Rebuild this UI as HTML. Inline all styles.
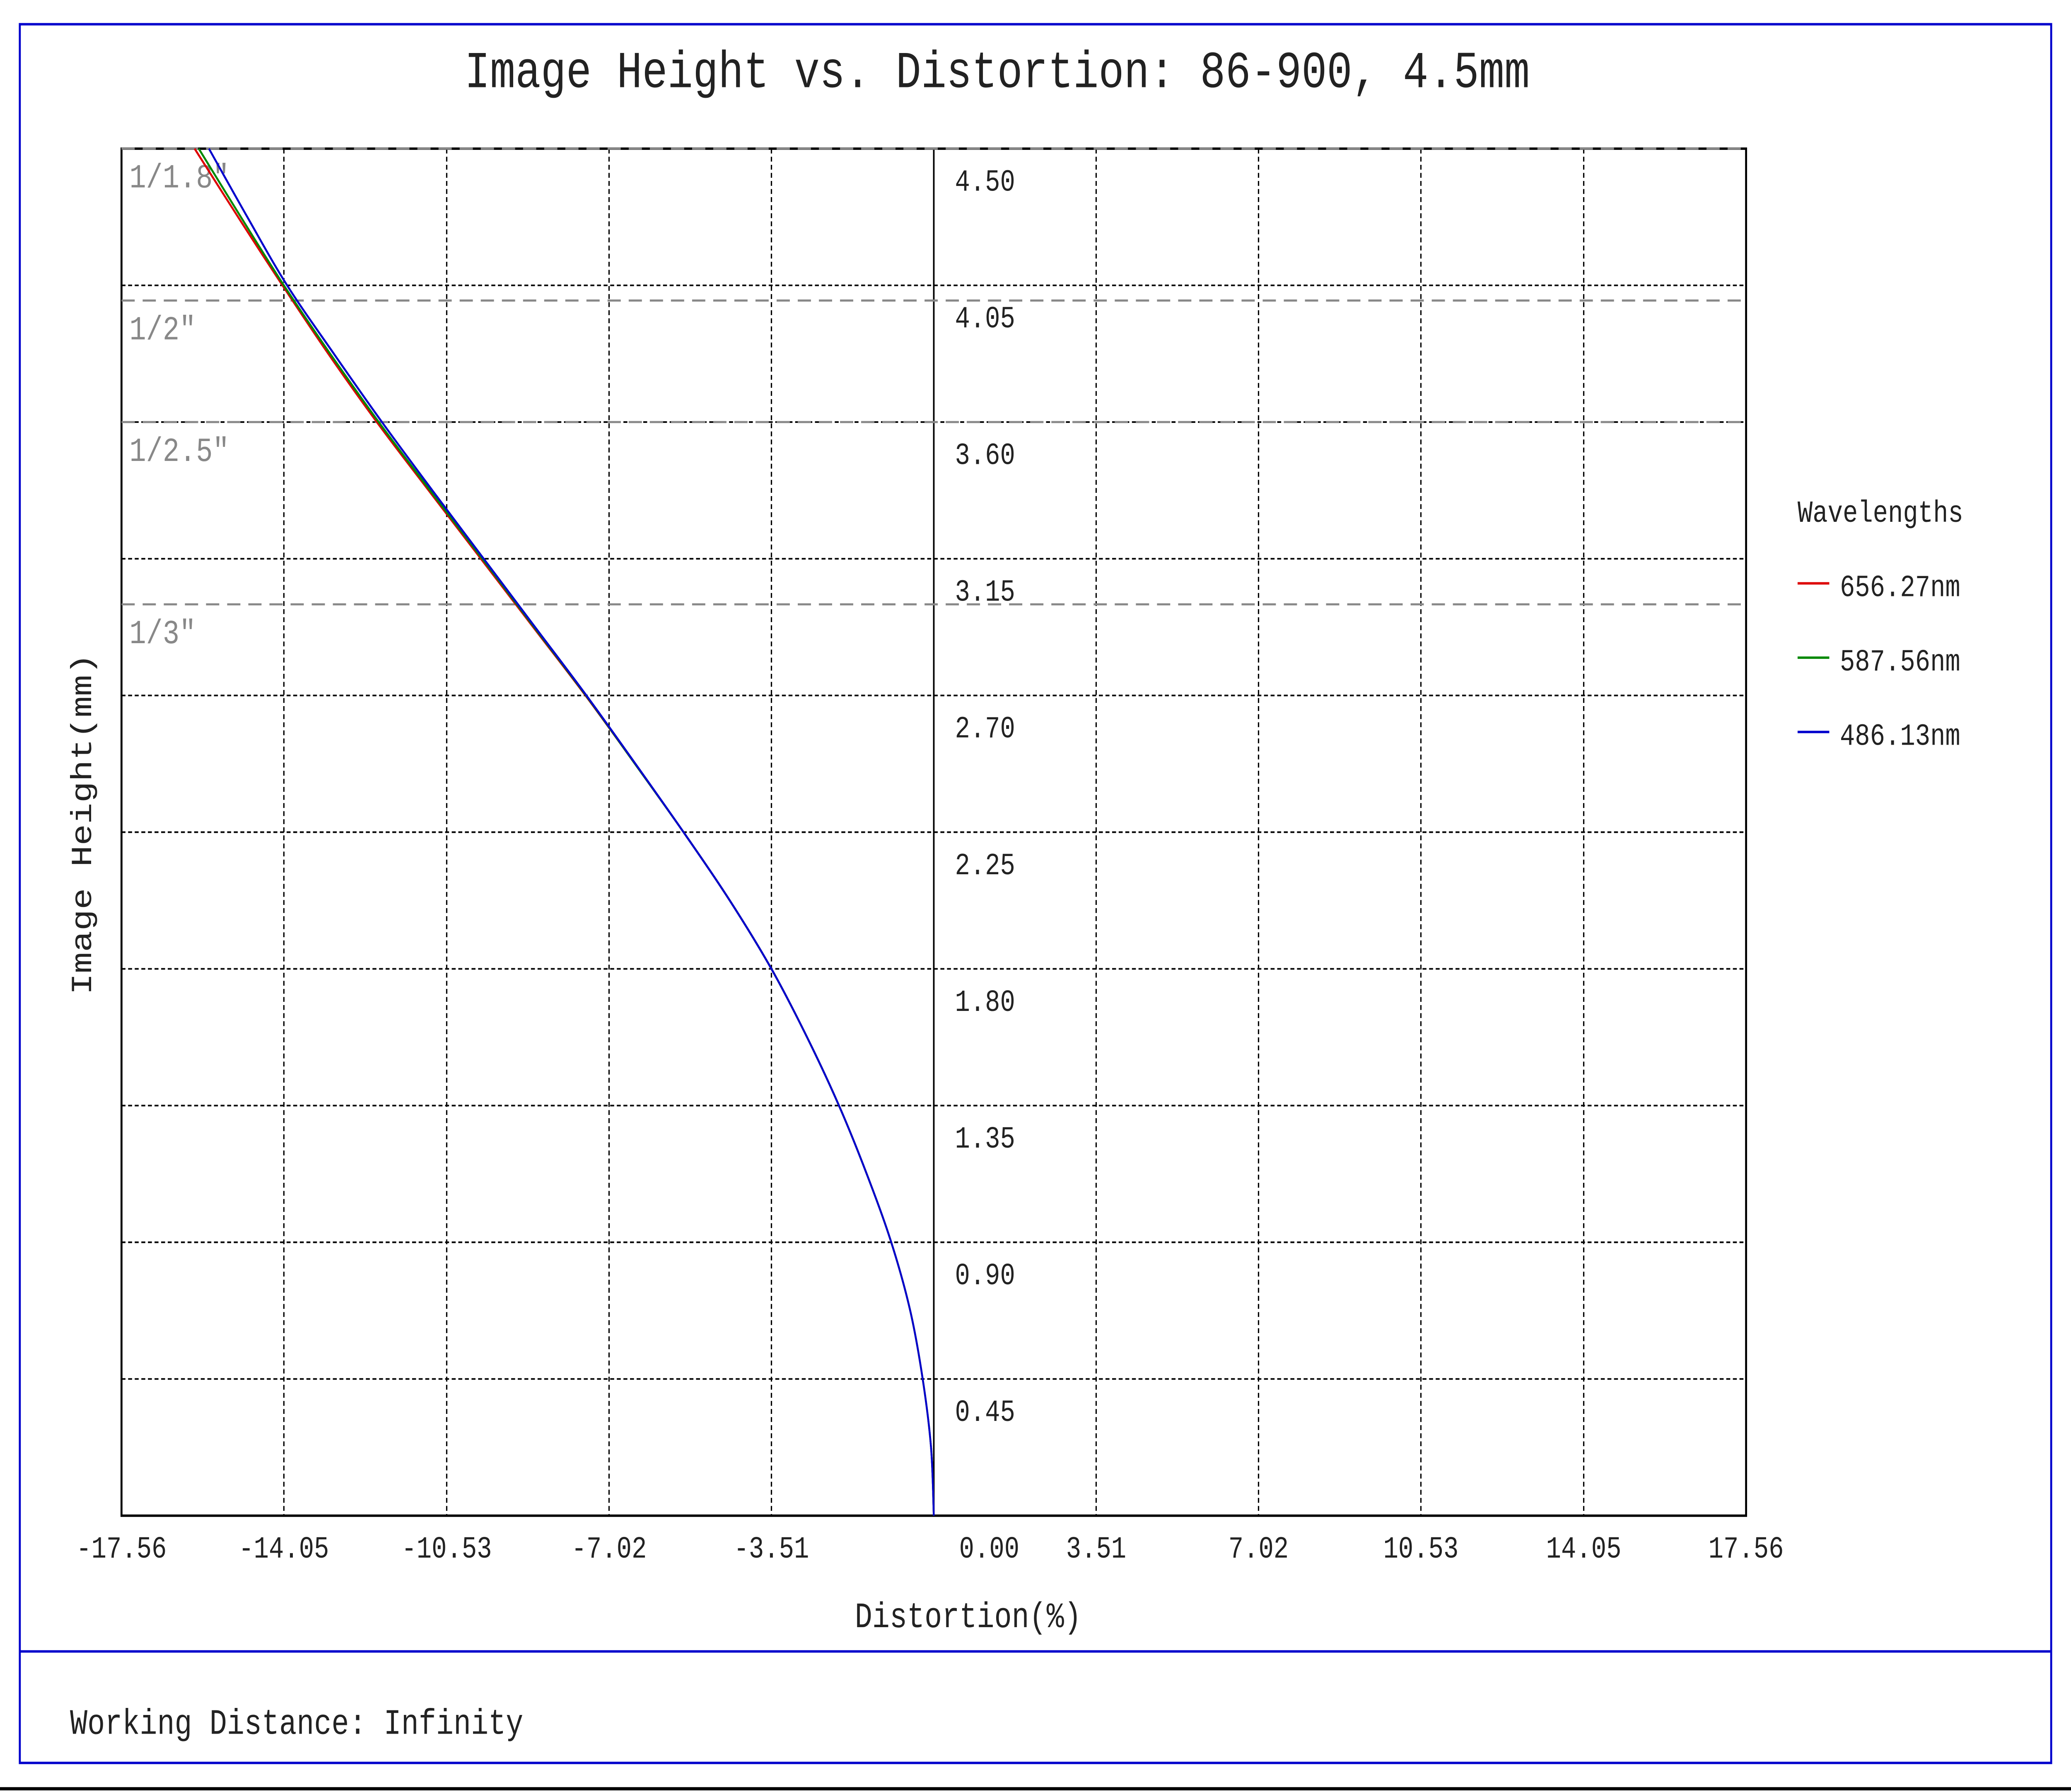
<!DOCTYPE html>
<html><head><meta charset="utf-8"><style>
html,body{margin:0;padding:0;background:#fff;width:100%;height:100%;overflow:hidden;}
svg{display:block;position:fixed;left:0;top:0;width:100vw;height:100vh;}
text{font-family:"Liberation Mono",monospace;}
</style></head><body>
<svg id="chart" viewBox="0 0 1568 1109" preserveAspectRatio="none" xmlns="http://www.w3.org/2000/svg">
<rect x="0" y="0" width="1568" height="1109" fill="#fff"/>
<rect x="15" y="15" width="1538" height="1076" fill="none" stroke="#0000cc" stroke-width="1.5"/>
<line x1="15" y1="1022" x2="1553" y2="1022" stroke="#0000cc" stroke-width="1.5"/>
<line x1="0" y1="1107" x2="1568" y2="1107" stroke="#000" stroke-width="2"/>
<text x="755" y="54" font-size="32" text-anchor="middle" fill="#222">Image Height vs. Distortion: 86-900, 4.5mm</text>
<g id="grid"></g>
<g id="sensors"></g>
<g id="ticks"></g>
<g id="series"></g>
<text x="733" y="1007" font-size="22" text-anchor="middle" fill="#222">Distortion(%)</text>
<text x="0" y="0" font-size="22" text-anchor="middle" fill="#222" transform="translate(69,510) rotate(-90)">Image Height(mm)</text>
<g>
<text x="1361" y="323" font-size="19" fill="#222">Wavelengths</text>
<line x1="1361" y1="361" x2="1385" y2="361" stroke="#d00" stroke-width="1.5"/>
<text x="1393" y="369" font-size="19" fill="#222">656.27nm</text>
<line x1="1361" y1="407" x2="1385" y2="407" stroke="#080" stroke-width="1.5"/>
<text x="1393" y="415" font-size="19" fill="#222">587.56nm</text>
<line x1="1361" y1="453" x2="1385" y2="453" stroke="#00c" stroke-width="1.5"/>
<text x="1393" y="461" font-size="19" fill="#222">486.13nm</text>
</g>
<text x="53" y="1073" font-size="22" fill="#222">Working Distance: Infinity</text>
</svg>
<script>
const xTicks = [-17.56,-14.05,-10.53,-7.02,-3.51,0.00,3.51,7.02,10.53,14.05,17.56];
const yTicks = [0.45,0.90,1.35,1.80,2.25,2.70,3.15,3.60,4.05,4.50];
const sensorLabels = ['1/1.8"','1/2"','1/2.5"','1/3"'];
const sensorHeights = [4.5,4.0,3.6,3.0];
const heights = [0,0.225,0.45,0.675,0.9,1.125,1.35,1.575,1.8,2.025,2.25,2.475,2.7,2.925,3.15,3.375,3.6,3.825,4.05,4.275,4.5];
const distRed   = [0,-0.06,-0.24,-0.51,-0.92,-1.45,-2.05,-2.74,-3.51,-4.41,-5.41,-6.46,-7.53,-8.66,-9.79,-10.92,-12.04,-13.09,-14.08,-15.04,-15.98];
const distGreen = [0,-0.06,-0.24,-0.51,-0.92,-1.45,-2.05,-2.74,-3.51,-4.41,-5.41,-6.46,-7.52,-8.64,-9.76,-10.89,-12.00,-13.05,-14.05,-14.98,-15.89];
const distBlue  = [0,-0.06,-0.24,-0.51,-0.92,-1.45,-2.05,-2.74,-3.51,-4.41,-5.41,-6.45,-7.51,-8.62,-9.73,-10.84,-11.93,-12.97,-13.98,-14.84,-15.67];

const NS='http://www.w3.org/2000/svg';
const L=92,R=1322,T=92,B=938,XMIN=-17.56,XMAX=17.56,YMAX=4.5;
const sx=v=>L+(v-XMIN)/(XMAX-XMIN)*(R-L);
const sy=v=>B-v/YMAX*(B-T);
function mk(tag,attrs,parent){const e=document.createElementNS(NS,tag);for(const k in attrs)e.setAttribute(k,attrs[k]);parent.appendChild(e);return e;}
const grid=document.getElementById('grid'),ticks=document.getElementById('ticks'),sens=document.getElementById('sensors'),ser=document.getElementById('series');
xTicks.forEach(v=>{
  if(Math.abs(v)<1e-9||v===XMIN||v===XMAX)return;
  const e=mk('line',{x1:sx(v),y1:T,x2:sx(v),y2:B,stroke:'#000','stroke-width':1,'stroke-dasharray':'3,2'},grid);
  
  
});
yTicks.forEach(v=>{
  const e=mk('line',{x1:L,y1:sy(v),x2:R,y2:sy(v),stroke:'#000','stroke-width':1,'stroke-dasharray':'3,2'},grid);
  
  
  const t=mk('text',{x:sx(0)+16,y:sy(v)+26,'font-size':19,fill:'#222'},ticks);
  t.textContent=v.toFixed(2);
  
  
});
const fr=mk('rect',{x:L,y:T,width:R-L,height:B-T,fill:'none',stroke:'#000','stroke-width':1.5},grid);


const za=mk('line',{x1:sx(0),y1:T,x2:sx(0),y2:B,stroke:'#000','stroke-width':1.2},grid);


xTicks.forEach(v=>{
  let x=sx(v); if(Math.abs(v)<1e-9)x+=42;
  const t=mk('text',{x:x,y:964,'font-size':19,'text-anchor':'middle',fill:'#222'},ticks);
  t.textContent=v.toFixed(2);
  
  
});
sensorHeights.forEach((h,i)=>{
  const y=sy(h);
  const e=mk('line',{x1:L,y1:y,x2:R,y2:y,stroke:'#888','stroke-width':1.3,'stroke-dasharray':'10,6'},sens);
  
  
  const t=mk('text',{x:98,y:y+24,'font-size':21,fill:'#888'},sens);
  t.textContent=sensorLabels[i];
  
  
});
function smoothPath(pts){
  let d='M'+pts[0][0].toFixed(2)+','+pts[0][1].toFixed(2);
  for(let i=0;i<pts.length-1;i++){
    const p0=pts[Math.max(0,i-1)],p1=pts[i],p2=pts[i+1],p3=pts[Math.min(pts.length-1,i+2)];
    const c1=[p1[0]+(p2[0]-p0[0])/6,p1[1]+(p2[1]-p0[1])/6];
    const c2=[p2[0]-(p3[0]-p1[0])/6,p2[1]-(p3[1]-p1[1])/6];
    d+=' C'+c1.map(n=>n.toFixed(2)).join(',')+' '+c2.map(n=>n.toFixed(2)).join(',')+' '+p2.map(n=>n.toFixed(2)).join(',');
  }
  return d;
}
[[distRed,'#d00','series-656nm'],[distGreen,'#080','series-587nm'],[distBlue,'#00c','series-486nm']].forEach(([d,c,n])=>{
  const pts=heights.map((h,i)=>[sx(d[i]),sy(h)]);
  const p=mk('path',{d:smoothPath(pts),fill:'none',stroke:c,'stroke-width':1.4,'stroke-linejoin':'round'},ser);
  
  
});
</script>
</body></html>
